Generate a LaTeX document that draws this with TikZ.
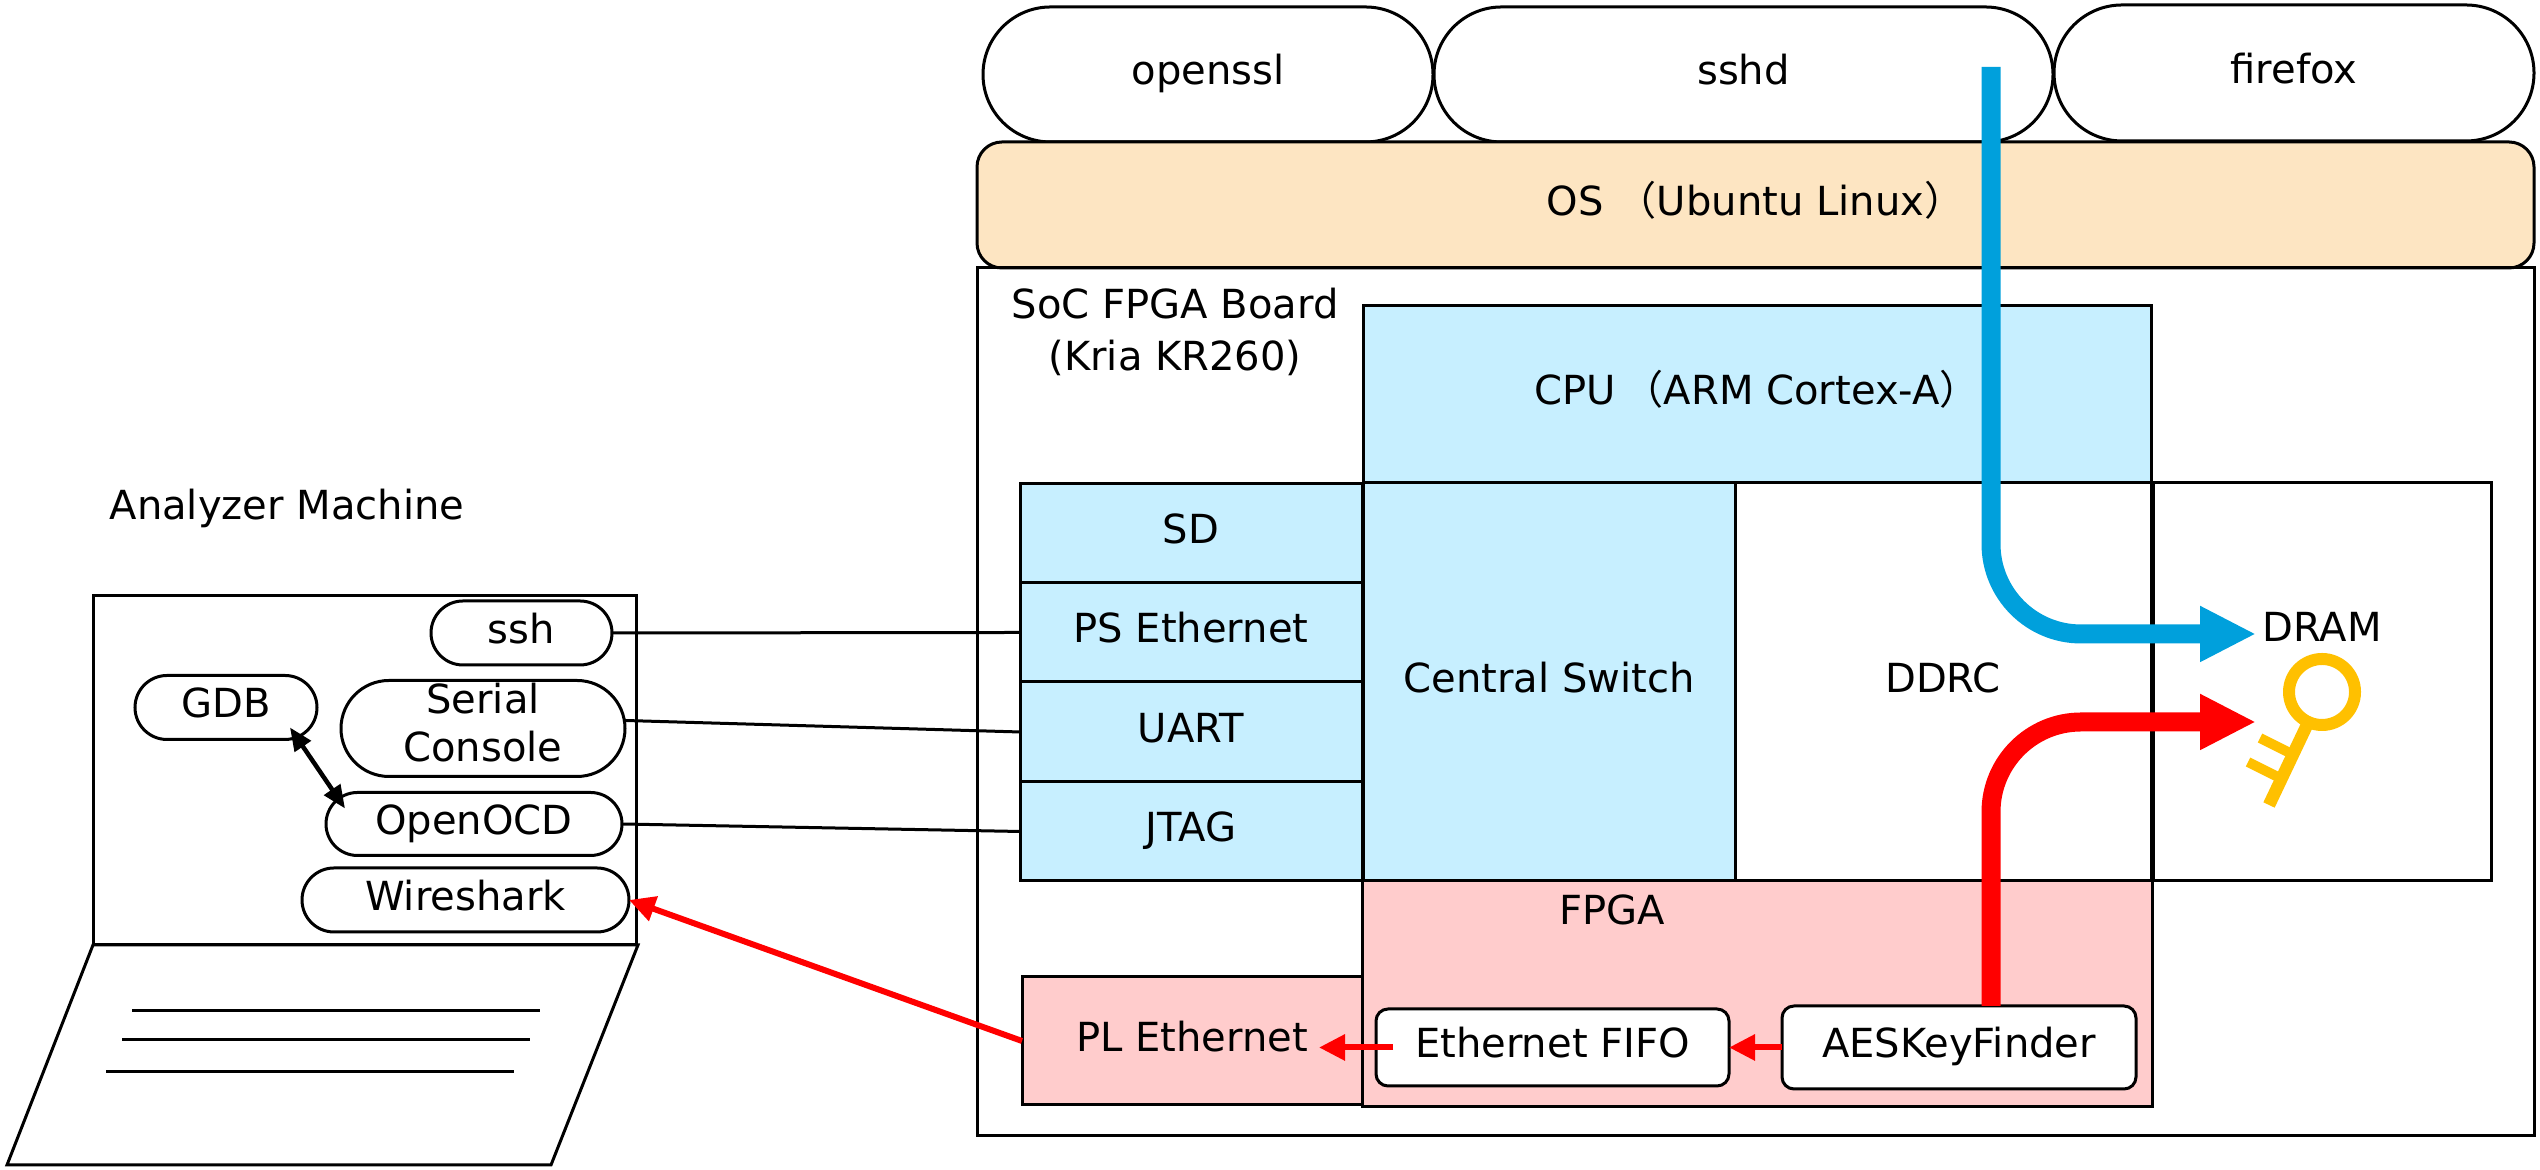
\documentclass[tikz,border=0pt]{standalone}
\usepackage[HTML]{xcolor}
\usepackage{fontspec}
\setmainfont{DejaVu Sans}
\newfontfamily\cjk{Noto Sans CJK JP}
\usepackage{tikz}
\usetikzlibrary{arrows.meta}

\definecolor{socblue}{HTML}{C7EFFF}
\definecolor{ospeach}{HTML}{FDE5C2}
\definecolor{plpink}{HTML}{FFCCCC}
\definecolor{flowblue}{HTML}{00A0DC}
\definecolor{keygold}{HTML}{FFC000}

\tikzset{
  edgeline/.style={line width=.03cm},
  blockbox/.style 2 args={draw, edgeline, inner sep=0pt, outer sep=0pt, minimum width=#1, minimum height=#2},
  pillbox/.style 2 args={blockbox={#1}{#2}, fill=white, rounded corners=#2/2},
  softbox/.style 2 args={blockbox={#1}{#2}, fill=white, rounded corners=.12cm},
  twolines/.style={align=center, text height=, text depth=},
  flowline/.style={line width=.19cm, -{Triangle[length=.56cm, width=.52cm]}, rounded corners=.9cm},
  redlink/.style={red, line width=.06cm, -{Triangle[length=.26cm, width=.25cm]}}
}

\begin{document}
\begin{tikzpicture}[every node/.style={font=\fontsize{11.4}{13.7}\selectfont, text height=.30cm, text depth=.09cm}]
\useasboundingbox (0,0) rectangle (25.4,11.7);

% Processes on the OS
\node[pillbox={4.50cm}{1.35cm}] (openssl) at (12.08,10.955) {openssl};
\node[pillbox={6.19cm}{1.35cm}] (sshd) at (17.435,10.955) {sshd};
\node[pillbox={4.80cm}{1.36cm}] (firefox) at (22.94,10.97) {firefox};
\node[blockbox={15.57cm}{1.26cm}, fill=ospeach, rounded corners=.25cm] (os) at (17.555,9.65) {OS\hspace{.13cm}{\cjk （}Ubuntu Linux{\cjk ）}};

% Board
\node[blockbox={15.57cm}{8.68cm}] (board) at (17.555,4.68) {};
\node[twolines] (boardname) at (11.75,8.38) {SoC FPGA Board\\[.04cm](Kria KR260)};
\node[blockbox={7.88cm}{1.77cm}, fill=socblue] (cpu) at (17.57,7.755) {CPU\hspace{.08cm}{\cjk （}ARM Cortex-A{\cjk ）}};
\node[blockbox={3.72cm}{3.98cm}, fill=socblue] (switch) at (15.49,4.88) {Central Switch};
\node[blockbox={4.16cm}{3.98cm}] (ddrc) at (19.43,4.88) {DDRC};
\node[blockbox={3.38cm}{3.98cm}] (dram) at (23.22,4.88) {};
\node (dramname) at (23.22,5.39) {DRAM};

% Peripherals
\node[blockbox={3.42cm}{.99cm}, fill=socblue] (sd) at (11.91,6.37) {SD};
\node[blockbox={3.42cm}{.99cm}, fill=socblue] (ps) at (11.91,5.375) {PS Ethernet};
\node[blockbox={3.42cm}{1.00cm}, fill=socblue] (uart) at (11.91,4.38) {UART};
\node[blockbox={3.42cm}{.99cm}, fill=socblue] (jtag) at (11.91,3.385) {JTAG};
\node[blockbox={3.40cm}{1.28cm}, fill=plpink] (pl) at (11.92,1.29) {PL Ethernet};

% FPGA
\node[blockbox={7.90cm}{2.26cm}, fill=plpink] (fpga) at (17.57,1.76) {};
\node (fpganame) at (16.12,2.56) {FPGA};
\node[softbox={3.53cm}{.77cm}] (fifo) at (15.525,1.225) {Ethernet FIFO};
\node[softbox={3.54cm}{.83cm}] (finder) at (19.59,1.225) {AESKeyFinder};

% Analyzer machine
\node (analyzer) at (2.87,6.61) {Analyzer Machine};
\draw[edgeline] (.93,2.25) rectangle (6.36,5.74);
\draw[edgeline] (.93,2.25) -- (6.38,2.25) -- (5.51,.05) -- (.07,.05) -- cycle;
\foreach \xa/\xb/\yy in {1.32/5.40/1.59, 1.22/5.30/1.30, 1.06/5.14/.98}
  \draw[edgeline] (\xa,\yy) -- (\xb,\yy);
\node[pillbox={1.81cm}{.64cm}] (ssh) at (5.215,5.37) {ssh};
\node[pillbox={1.82cm}{.64cm}] (gdb) at (2.26,4.625) {GDB};
\node[pillbox={2.84cm}{.96cm}] (serial) at (4.83,4.415) {};
\node[twolines] (serialname) at (4.83,4.475) {Serial\\Console};
\node[pillbox={2.96cm}{.63cm}] (ocd) at (4.74,3.46) {OpenOCD};
\node[pillbox={3.27cm}{.64cm}] (wire) at (4.655,2.70) {Wireshark};

% Links
\draw[edgeline] (ssh.east) -- (ps.west);
\draw[edgeline] ([yshift=.08cm]serial.east) -- (uart.west);
\draw[edgeline] (ocd.east) -- (jtag.west);
\draw[line width=.045cm, {Triangle[length=.23cm, width=.19cm]}-{Triangle[length=.23cm, width=.19cm]}]
  ([shift={(.64,.12)}]gdb.south) -- ([shift={(-1.29,-.16)}]ocd.north);
\draw[redlink] (finder.west) -- (fifo.east);
\draw[redlink] ([xshift=.17cm]fifo.west) -- ([xshift=-.43cm]pl.east |- fifo.west);
\draw[redlink] (pl.west) -- (wire.east);

% Data paths
\coordinate (sshdport) at (19.91,11.03);
\coordinate (dramport) at (22.56,5.36);
\coordinate (keyport) at (22.56,4.48);
\draw[flowline, flowblue] (sshdport) |- (dramport);
\draw[flowline, red] ([xshift=.32cm]finder.north) |- (keyport);

% Key
\begin{scope}[keygold]
\draw[line width=.12cm] (23.22,4.78) circle (.33);
\draw[line width=.125cm] (23.07,4.45) -- (22.69,3.65);
\draw[line width=.10cm] (22.60,4.32) -- (22.90,4.17);
\draw[line width=.10cm] (22.48,4.08) -- (22.80,3.92);
\end{scope}
\end{tikzpicture}
\end{document}
